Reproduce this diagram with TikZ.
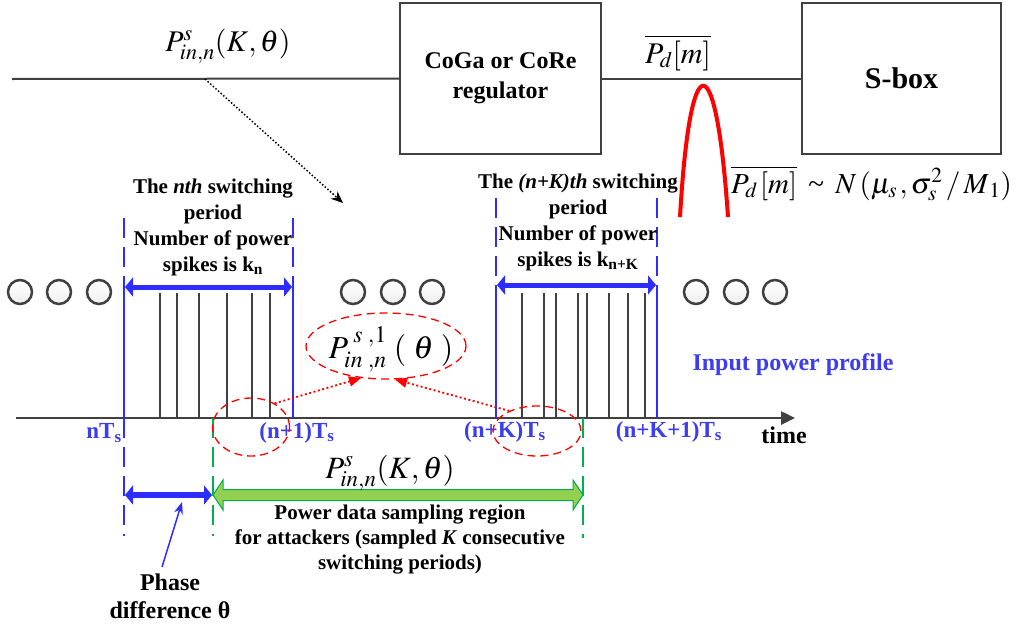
\documentclass[tikz,border=0pt]{standalone}
\usepackage{mathptmx}
\usepackage{fontspec}
\setmainfont{Liberation Serif}
\usetikzlibrary{arrows.meta,shapes.geometric,calc}
\definecolor{dgray}{RGB}{64,64,64}
\definecolor{myblue}{RGB}{45,45,255}
\definecolor{tblue}{RGB}{60,60,240}
\definecolor{dgreen}{RGB}{0,176,80}
\definecolor{lgreen}{RGB}{146,208,80}
\definecolor{cfill}{RGB}{238,238,238}
\newcommand\myfs[2]{\fontsize{#1}{#2}\selectfont}
\newcommand\tld{\mathrel{\hbox{\,\string~\,}}}
\tikzset{
  lbl/.style={font=\myfs{21}{26}\bfseries, align=center, inner sep=0pt},
  tsl/.style={font=\myfs{23}{26}\bfseries, text=tblue, inner sep=0pt},
  boxst/.style={draw=dgray, line width=2.5pt, align=center},
  wire/.style={draw=dgray, line width=2pt},
  spike/.style={draw=dgray, line width=2pt},
  bsolid/.style={draw=myblue, line width=2.5pt},
  bdash/.style={draw=myblue, line width=2.5pt, dash pattern=on 20pt off 9pt},
  gdash/.style={draw=dgreen, line width=2.5pt, dash pattern=on 20pt off 9pt},
  dotc/.style={circle, draw=dgray, line width=2.5pt, minimum size=24pt, inner sep=0pt, top color=white, bottom color=cfill},
  redell/.style={ellipse, draw=red, line width=1.3pt, dash pattern=on 8pt off 5pt, inner sep=0pt},
  reddot/.style={draw=red, line width=1.8pt, dash pattern=on 2pt off 2.5pt, -{Triangle[length=12pt,width=10pt]}},
  blkdot/.style={draw=black, line width=1.5pt, dash pattern=on 1.5pt off 2pt, -{Stealth[length=12pt,width=10pt]}},
  fatarr/.style={draw=myblue, line width=5pt, {Triangle[length=8pt,width=19pt]}-{Triangle[length=8pt,width=19pt]}},
  mth/.style={inner sep=0pt, anchor=base},
}
\begin{document}
\begin{tikzpicture}[x=1pt,y=-1pt]
\useasboundingbox (0,0) rectangle (1019,624);

% top chain
\node[boxst, minimum width=201pt, minimum height=151pt, font=\myfs{24}{30}\bfseries] (reg) at (500.5,78.5) {CoGa or CoRe\\regulator};
\node[boxst, minimum width=199pt, minimum height=151pt, font=\myfs{30}{30}\bfseries] (sbox) at (901.5,78.5) {S-box};
\coordinate (lstart) at (12,79);
\draw[wire] (lstart) -- (reg.west);
\draw[wire] (reg.east) -- (sbox.west);
\node[mth, font=\myfs{30}{30}] (pin) at (228,51) {$P^{s}_{in,n}(K,\theta)$};
\node[mth, font=\myfs{30}{30}] (pd) at (678,63) {$\overline{P_d[m]}$};
\node[mth, anchor=base west, font=\myfs{29}{29}] (dist) at (731,193) {$\overline{P_{d\,}[m]}\tld N\,(\mu_{s\,},\sigma_s^2\,/\,M_{\,1})$};

% red gaussian
\draw[red, line width=4pt] (680,217) .. controls (690,42) and (716,42) .. (728,217);

% dotted black arrow
\coordinate (tap) at (205,79);
\coordinate (tapend) at (343,203);
\draw[blkdot] (tap) -- (tapend);

% time axis
\coordinate (ax0) at (16,418);
\coordinate (ax1) at (795,418);
\draw[draw=dgray, line width=2.5pt, -{Triangle[length=14pt,width=13pt]}] (ax0) -- (ax1);
\node[font=\myfs{24}{24}\bfseries, inner sep=0pt] (time) at (784,435) {time};

% spikes
\foreach \x in {160,177,199,227,252,270} \draw[spike] (\x,293) -- (\x,418);
\foreach \x in {522,544,556,578,587,609,628,645} \draw[spike] (\x,293) -- (\x,418);

% blue period boundaries
\draw[bsolid] (124,293) -- (124,418);
\draw[bsolid] (293,293) -- (293,418);
\draw[bsolid] (496,292) -- (496,418);
\draw[bsolid] (657,292) -- (657,418);
\draw[bdash] (124,218) -- (124,293);
\draw[bdash] (293,218) -- (293,293);
\draw[bdash] (496,198) -- (496,292);
\draw[bdash] (657,198) -- (657,292);
\draw[bdash] (124,418) -- (124,536);
\draw[gdash] (213,418) -- (213,536);
\draw[gdash] (583,418) -- (583,538);

% period arrows
\coordinate (a1l) at (125,287); \coordinate (a1r) at (292,287);
\coordinate (a2l) at (497,285); \coordinate (a2r) at (656,285);
\draw[fatarr] (a1l) -- (a1r);
\draw[fatarr] (a2l) -- (a2r);

% header texts
\node[lbl] (h1) at (213,227) {The \textit{nth} switching\\period\\Number of power\\spikes is k\textsubscript{n}};
\node[lbl] (h2) at (578,222) {The \textit{(n+K)th} switching\\period\\Number of power\\spikes is k\textsubscript{n+K}};

% circles
\foreach \x/\n in {20/c1,59/c2,99/c3,353/c4,393/c5,432/c6,696/c7,736/c8,775/c9}
  \node[dotc] (\n) at (\x,292) {};

\node[font=\myfs{24}{24}\bfseries, text=tblue, inner sep=0pt] (ipp) at (793,365) {Input power profile};

% time labels
\node[tsl] (t0) at (104,433) {nT\textsubscript{s}};
\node[tsl] (t1) at (297,433) {(n+1)T\textsubscript{s}};
\node[tsl] (t2) at (505,432) {(n+K)T\textsubscript{s}};
\node[tsl] (t3) at (669,432) {(n+K+1)T\textsubscript{s}};

% red ellipses
\node[redell, minimum width=77pt, minimum height=58pt] (e1) at (251,427) {};
\node[redell, minimum width=88pt, minimum height=50pt] (e2) at (537,431) {};
\node[redell, minimum width=160pt, minimum height=66pt] (e3) at (386,346) {};
\node[mth, font=\myfs{32}{32}] (p1) at (391,358) {$P^{\;s\;,1}_{in\;,n}\;(\;\theta\;)$};
\draw[reddot] (e1.45) -- (e3.232);
\draw[reddot] (e2.144) -- (e3.285);

% bottom arrows
\coordinate (pL) at (125,495); \coordinate (pR) at (212,495);
\draw[draw=myblue, line width=6.5pt, {Triangle[length=8pt,width=19pt]}-{Triangle[length=8pt,width=19pt]}] (pL) -- (pR);
\draw[draw=dgreen, fill=lgreen, line width=1pt]
  (213,495) -- (223,480) -- (223,489.5) -- (573,489.5) -- (573,480) -- (583,495)
  -- (573,510) -- (573,500.5) -- (223,500.5) -- (223,510) -- cycle;
\node[mth, font=\myfs{31}{31}] (p2) at (390,478) {$P^{s}_{in,n}(K,\theta)$};
\node[lbl, font=\myfs{21}{25}\bfseries] (samp) at (400,540) {Power data sampling region\\for attackers (sampled \textit{K} consecutive\\switching periods)};
\node[lbl, font=\myfs{24}{28}\bfseries] (phase) at (170,596) {Phase\\difference θ};
\coordinate (ph1) at (162,567);
\coordinate (ph2) at (182,502);
\draw[draw=myblue, line width=1.5pt, -{Stealth[length=12pt,width=9pt]}] (ph1) -- (ph2);
\end{tikzpicture}
\end{document}
